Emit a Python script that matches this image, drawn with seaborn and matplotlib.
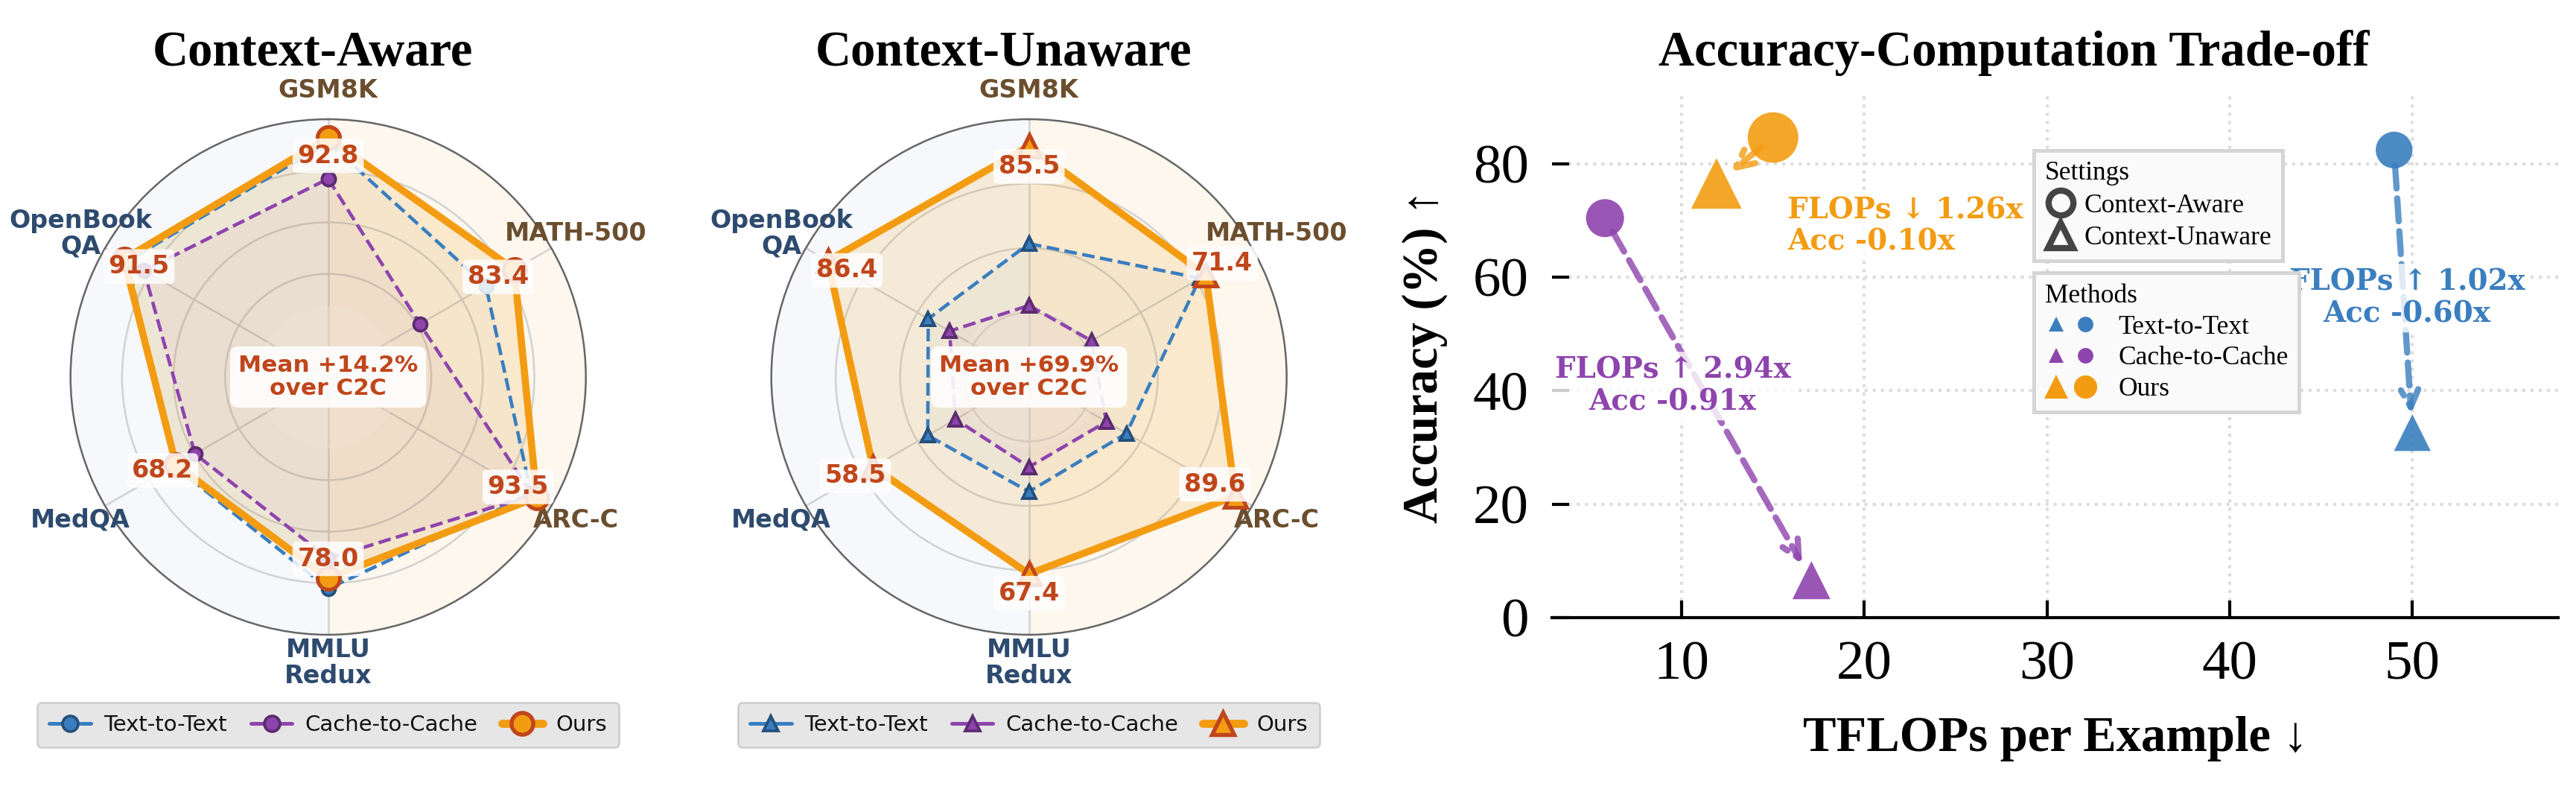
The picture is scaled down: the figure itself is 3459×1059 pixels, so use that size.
import numpy as np
import pandas as pd
import matplotlib
matplotlib.use('Agg')
import matplotlib.pyplot as plt
import seaborn as sns
from matplotlib.lines import Line2D
from matplotlib.legend_handler import HandlerTuple

sns.set_theme(style='white')
plt.rcParams['font.family'] = ['DejaVu Sans']
plt.rcParams['text.color'] = 'black'

# ---- data ----
benchmarks = ['GSM8K', 'MATH-500', 'ARC-C', 'MMLU\nRedux', 'MedQA', 'OpenBook\nQA']
methods = ['Text-to-Text', 'Cache-to-Cache', 'Ours']

aware_t2t = [91.0, 70.7, 91.0, 82.1, 69.0, 90.0]
aware_c2c = [76.9, 41.1, 91.5, 70.4, 59.7, 82.6]
aware_ours = [92.8, 83.4, 93.5, 78.0, 68.2, 91.5]

unaware_t2t = [33.4, 67.7, 22.3, 23.4, 24.6, 24.3]
unaware_c2c = [0.3, 0.7, 9.9, 10.2, 7.4, 11.1]
unaware_ours = [85.5, 71.4, 89.6, 67.4, 58.5, 86.4]

mean_gain = ['Mean +14.2%\nover C2C', 'Mean +69.9%\nover C2C']

tflops_aware = [49.0, 5.8, 15.0]
tflops_unaware = [50.0, 17.1, 11.9]
acc_aware = [82.4, 70.4, 84.6]
acc_unaware = [32.6, 6.6, 76.5]
trade_notes = ['FLOPs ↑ 1.02x\nAcc -0.60x', 'FLOPs ↑ 2.94x\nAcc -0.91x', 'FLOPs ↓ 1.26x\nAcc -0.10x']

# ---- style ----
colors = ['#3A7EBF', '#8E44AD', '#F39C12']
edges = ['#24507D', '#5B2C6F', '#C0461B']
val_color = '#C0461B'
serif = ['Liberation Serif', 'DejaVu Serif']

fig = plt.figure(figsize=(3459 / 300, 1059 / 300), dpi=300)


def radar(rect, series, marker, rlo, offsets, gain, title, title_x):
    ax = fig.add_axes(rect, projection='polar')
    n = len(benchmarks)
    ang = np.arange(n) * 2 * np.pi / n
    ax.set_theta_offset(np.pi / 2)
    ax.set_theta_direction(-1)
    ax.set_ylim(rlo, 100)

    half = np.linspace(0, np.pi, 100)
    ax.fill_between(half, rlo, 100, color='#FDF7EE', zorder=0)
    ax.fill_between(half + np.pi, rlo, 100, color='#F6F8FB', zorder=0)
    full = np.linspace(0, 2 * np.pi, 200)
    ax.fill_between(full, rlo, rlo + 0.27 * (100 - rlo), color='white', alpha=0.3, zorder=1)

    a = np.r_[ang, ang[:1]]
    lws = [1.1, 1.1, 2.3]
    lss = ['--', '--', '-']
    mss = [4.3, 4.3, 7.2]
    fills = [0.04, 0.05, 0.15]
    for i, vals in enumerate(series):
        v = np.r_[vals, vals[:1]]
        ax.fill(a, v, color=colors[i], alpha=fills[i], zorder=2, lw=0)
        ax.plot(a, v, color=colors[i], ls=lss[i], lw=lws[i], marker=marker, ms=mss[i],
                mfc=colors[i], mec=edges[i], mew=0.9 if i < 2 else 1.2, zorder=3 + i)

    for t, v, (dx, dy) in zip(ang, series[2], offsets):
        ax.annotate(f'{v:.1f}', (t, v), xytext=(dx, dy), textcoords='offset points',
                    ha='center', va='center', fontsize=8, fontweight='bold', color=val_color,
                    bbox=dict(boxstyle='round,pad=0.2', fc='white', ec='none', alpha=0.85), zorder=8)

    for i, (t, name) in enumerate(zip(ang, benchmarks)):
        ax.text(0.5 + 0.555 * np.sin(t), 0.5 + 0.555 * np.cos(t), name, transform=ax.transAxes,
                ha='center', va='center', fontsize=8, fontweight='bold', linespacing=1.05,
                color='#6B4E2E' if i < 3 else '#2E4A6E')

    ax.text(0.5, 0.5, gain, transform=ax.transAxes, ha='center', va='center', fontsize=7.5,
            fontweight='bold', color=val_color, linespacing=1.1,
            bbox=dict(boxstyle='round,pad=0.35', fc='white', ec='none', alpha=0.9), zorder=9)

    ax.set_xticks(ang)
    ax.set_xticklabels([])
    ax.set_yticks(rlo + np.array([0.25, 0.5, 0.75]) * (100 - rlo) if rlo < 0 else [40, 60, 80])
    ax.set_yticklabels([])
    ax.grid(True, color='#D2D2D2', lw=0.6)
    ax.spines['polar'].set_color('#666666')
    ax.spines['polar'].set_linewidth(0.6)
    ax.tick_params(length=0)

    handles = [Line2D([], [], color=colors[i], lw=[1.2, 1.2, 2.6][i], marker=marker,
                      ms=[5, 5, 7][i], mfc=colors[i], mec=edges[i], mew=[0.9, 0.9, 1.3][i])
               for i in range(3)]
    leg = ax.legend(handles, methods, loc='center', bbox_to_anchor=(0.5, -0.175), ncol=3,
                    fontsize=7, frameon=True, facecolor='#E6E6E6', edgecolor='#CCCCCC',
                    fancybox=True, framealpha=1, handlelength=1.9, columnspacing=1.1,
                    handletextpad=0.6, borderpad=0.55, labelcolor='#111111')
    leg.get_frame().set_linewidth(0.6)
    fig.text(title_x, 0.917, title, ha='center', va='baseline', fontsize=16,
             fontweight='bold', family=serif, color='black')
    return ax


radar([0.02735, 0.1955, 0.2001, 0.6534], [aware_t2t, aware_c2c, aware_ours], 'o', 0,
      [(0, -5.8), (-5.2, -2.4), (-6, 3.4), (0, 6.2), (-4.3, -1.8), (4.8, -2.4)],
      mean_gain[0], 'Context-Aware', 0.1214)
radar([0.2994, 0.1955, 0.2001, 0.6534], [unaware_t2t, unaware_c2c, unaware_ours], '^', -38,
      [(0, -6.5), (5.3, 3.7), (-6.6, 3.8), (0, -6.2), (-5.7, -2.8), (6.2, -3.1)],
      mean_gain[1], 'Context-Unaware', 0.3897)

# ---- trade-off scatter ----
ax3 = fig.add_axes([0.6025, 0.2172, 0.3907, 0.6617])
df = pd.DataFrame({
    'method': methods * 2,
    'setting': ['Context-Aware'] * 3 + ['Context-Unaware'] * 3,
    'tflops': tflops_aware + tflops_unaware,
    'acc': acc_aware + acc_unaware,
})
palette = dict(zip(methods, colors))
sns.scatterplot(data=df, x='tflops', y='acc', hue='method', palette=palette,
                style='setting', markers={'Context-Aware': 'o', 'Context-Unaware': '^'},
                size='method', sizes={'Text-to-Text': 140, 'Cache-to-Cache': 150, 'Ours': 265},
                alpha=0.9, linewidth=0, legend=False, ax=ax3, zorder=3)

for i, c in enumerate(colors):
    ax3.annotate('', xy=(tflops_unaware[i], acc_unaware[i]), xytext=(tflops_aware[i], acc_aware[i]),
                 arrowprops=dict(arrowstyle='->', color=c, lw=2, ls='--', alpha=0.8,
                                 shrinkA=5, shrinkB=6, mutation_scale=14), zorder=2)

note_xy = [(49.7, 56.3), (9.5, 40.8), (15.8, 69.0)]
note_ha = ['center', 'center', 'left']
for i, txt in enumerate(trade_notes):
    ax3.text(*note_xy[i], txt, ha=note_ha[i], va='center', multialignment=note_ha[i],
             fontsize=9.3, fontweight='bold', color=colors[i], family='DejaVu Serif',
             linespacing=1.15, zorder=4,
             bbox=dict(boxstyle='round,pad=0.15', fc='white', ec='none', alpha=0.8))

ax3.set_xlim(2.9, 58)
ax3.set_ylim(0, 92)
ax3.set_xticks([10, 20, 30, 40, 50])
ax3.set_yticks([0, 20, 40, 60, 80])
ax3.grid(True, ls=':', color='#DDDDDD', lw=1)
for s in ['left', 'top', 'right']:
    ax3.spines[s].set_visible(False)
ax3.spines['bottom'].set_color('black')
ax3.spines['bottom'].set_linewidth(1)
ax3.tick_params(direction='in', length=5.5, width=1, pad=7.5, labelsize=18, colors='black',
                left=True, bottom=True)
for lbl in ax3.get_xticklabels() + ax3.get_yticklabels():
    lbl.set_fontfamily(serif)
ax3.set_xlabel('TFLOPs per Example ↓', fontsize=16, fontweight='bold', family=serif,
               labelpad=8, color='black')
ax3.set_ylabel('Accuracy (%) ↑', fontsize=16, fontweight='bold', family=serif,
               labelpad=8, color='black')
fig.text(0.7817, 0.917, 'Accuracy-Computation Trade-off', ha='center', va='baseline',
         fontsize=16, fontweight='bold', family=serif, color='black')

set_handles = [Line2D([], [], ls='', marker=m, ms=8, mfc='none', mec='#444444', mew=2)
               for m in ['o', '^']]
leg1 = ax3.legend(set_handles, ['Context-Aware', 'Context-Unaware'], title='Settings',
                  loc='upper left', bbox_to_anchor=(0.479, 0.895), borderaxespad=0,
                  prop={'family': serif, 'size': 8.5}, title_fontproperties={'family': serif, 'size': 8.5},
                  frameon=True, fancybox=False, facecolor='#FAFAFA', edgecolor='#D5D5D5',
                  framealpha=1, handletextpad=0.3, labelspacing=0.3, borderpad=0.4,
                  handlelength=1.2, alignment='left', labelcolor='black')
leg1.get_frame().set_linewidth(1.2)
ax3.add_artist(leg1)

meth_handles = [(Line2D([], [], ls='', marker='^', ms=ms, color=c, mec='none'),
                 Line2D([], [], ls='', marker='o', ms=ms, color=c, mec='none'))
                for c, ms in zip(colors, [5, 5, 7.5])]
leg2 = ax3.legend(meth_handles, methods, title='Methods', handler_map={tuple: HandlerTuple(ndivide=None, pad=0.2)},
                  loc='upper left', bbox_to_anchor=(0.479, 0.660), borderaxespad=0,
                  prop={'family': serif, 'size': 8.5}, title_fontproperties={'family': serif, 'size': 8.5},
                  frameon=True, fancybox=False, facecolor='#FAFAFA', edgecolor='#D5D5D5',
                  framealpha=1, handletextpad=0.8, labelspacing=0.25, borderpad=0.4,
                  handlelength=2.0, alignment='left', labelcolor='black')
leg2.get_frame().set_linewidth(1.2)

fig.savefig('out.png', dpi=300)
